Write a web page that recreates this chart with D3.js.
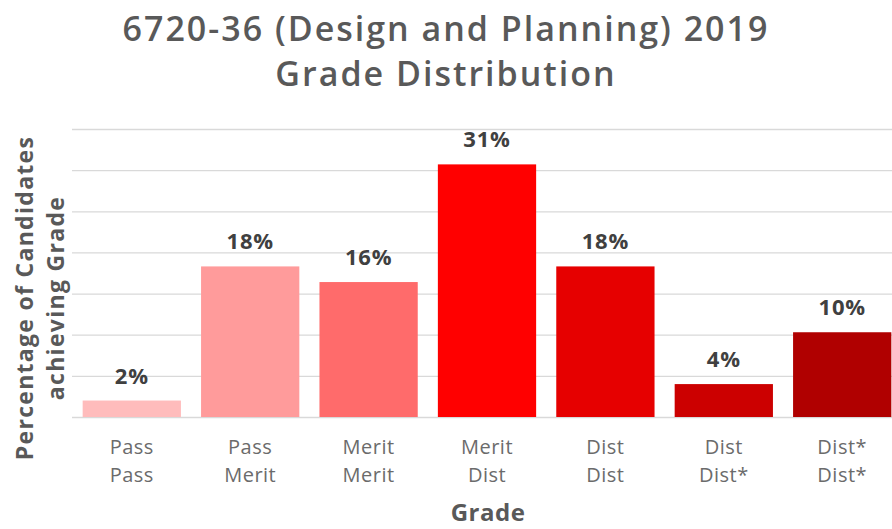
<!DOCTYPE html>
<html>
<head>
<meta charset="utf-8">
<script src="https://cdnjs.cloudflare.com/ajax/libs/d3/7.8.5/d3.min.js"></script>
<style>
  body { margin: 0; background: #fff; }
  svg { display: block; font-family: "Open Sans", Lato, sans-serif; }
</style>
</head>
<body>
<script>
// chart data
var gradesTop = ["Pass", "Pass", "Merit", "Merit", "Dist", "Dist", "Dist*"];
var gradesBottom = ["Pass", "Merit", "Merit", "Dist", "Dist", "Dist*", "Dist*"];
var percentages = [2, 18, 16, 31, 18, 4, 10];
var barHeights = [2.0, 18.3, 16.4, 30.7, 18.3, 4.0, 10.3];
var barColors = ["#ffbcbc", "#ff9b9b", "#ff6b6b", "#ff0000", "#e60000", "#cc0000", "#b00000"];
var gridTicks = [0, 5, 10, 15, 20, 25, 30, 35];

var width = 892, height = 529;
var margin = {top: 129, right: 0, bottom: 112, left: 72};

var svg = d3.select("body").append("svg")
  .attr("width", width)
  .attr("height", height);

var data = percentages.map(function(p, i) {
  return {key: i, top: gradesTop[i], bottom: gradesBottom[i], label: p, value: barHeights[i], color: barColors[i]};
});

var x = d3.scaleBand()
  .domain(data.map(d => d.key))
  .range([margin.left, 902])
  .paddingInner(0.17)
  .paddingOuter(0.09);

var y = d3.scaleLinear()
  .domain([0, 35])
  .range([height - margin.bottom, margin.top]);

// gridlines
svg.append("g")
  .attr("transform", "translate(" + margin.left + ",0)")
  .call(d3.axisLeft(y).tickValues(gridTicks).tickSize(-(width - margin.left)).tickFormat(""))
  .call(g => g.select(".domain").remove())
  .call(g => g.selectAll(".tick line").attr("stroke", "#d9d9d9").attr("stroke-width", 1.3));

// bars
svg.selectAll("rect.bar")
  .data(data).enter()
  .append("rect")
  .attr("class", "bar")
  .attr("x", d => x(d.key))
  .attr("width", x.bandwidth())
  .attr("y", d => y(d.value))
  .attr("height", d => y(0) - y(d.value))
  .attr("fill", d => d.color);

// value labels
svg.selectAll("text.val")
  .data(data).enter()
  .append("text")
  .attr("class", "val")
  .attr("x", d => x(d.key) + x.bandwidth() / 2)
  .attr("y", d => y(d.value) - 17)
  .attr("text-anchor", "middle")
  .attr("font-size", 22)
  .attr("font-weight", "bold")
  .attr("letter-spacing", 0.8)
  .attr("fill", "#404040")
  .text(d => d.label + "%");

// category labels
var cat = svg.selectAll("text.cat")
  .data(data).enter()
  .append("text")
  .attr("class", "cat")
  .attr("text-anchor", "middle")
  .attr("font-size", 20)
  .attr("letter-spacing", 0.5)
  .attr("fill", "#6b6b6b");
cat.append("tspan")
  .attr("x", d => x(d.key) + x.bandwidth() / 2)
  .attr("y", 454)
  .text(d => d.top);
cat.append("tspan")
  .attr("x", d => x(d.key) + x.bandwidth() / 2)
  .attr("y", 482)
  .text(d => d.bottom);

// axis titles
svg.append("text")
  .attr("x", 488)
  .attr("y", 521)
  .attr("text-anchor", "middle")
  .attr("font-size", 24)
  .attr("font-weight", "bold")
  .attr("letter-spacing", 0.5)
  .attr("fill", "#595959")
  .text("Grade");

var yTitle = svg.append("text")
  .attr("transform", "translate(0,298) rotate(-90)")
  .attr("text-anchor", "middle")
  .attr("font-size", 23)
  .attr("font-weight", "bold")
  .attr("letter-spacing", 1.3)
  .attr("fill", "#595959");
yTitle.append("tspan").attr("x", 0).attr("y", 33).text("Percentage of Candidates");
yTitle.append("tspan").attr("x", 0).attr("y", 64).text("achieving Grade");

// chart title
var title = svg.append("text")
  .attr("text-anchor", "middle")
  .attr("font-size", 34)
  .attr("font-weight", 600)
  .attr("letter-spacing", 2)
  .attr("fill", "#595959");
title.append("tspan").attr("x", 446).attr("y", 41).text("6720-36 (Design and Planning) 2019");
title.append("tspan").attr("x", 446).attr("y", 86).text("Grade Distribution");
</script>
</body>
</html>
